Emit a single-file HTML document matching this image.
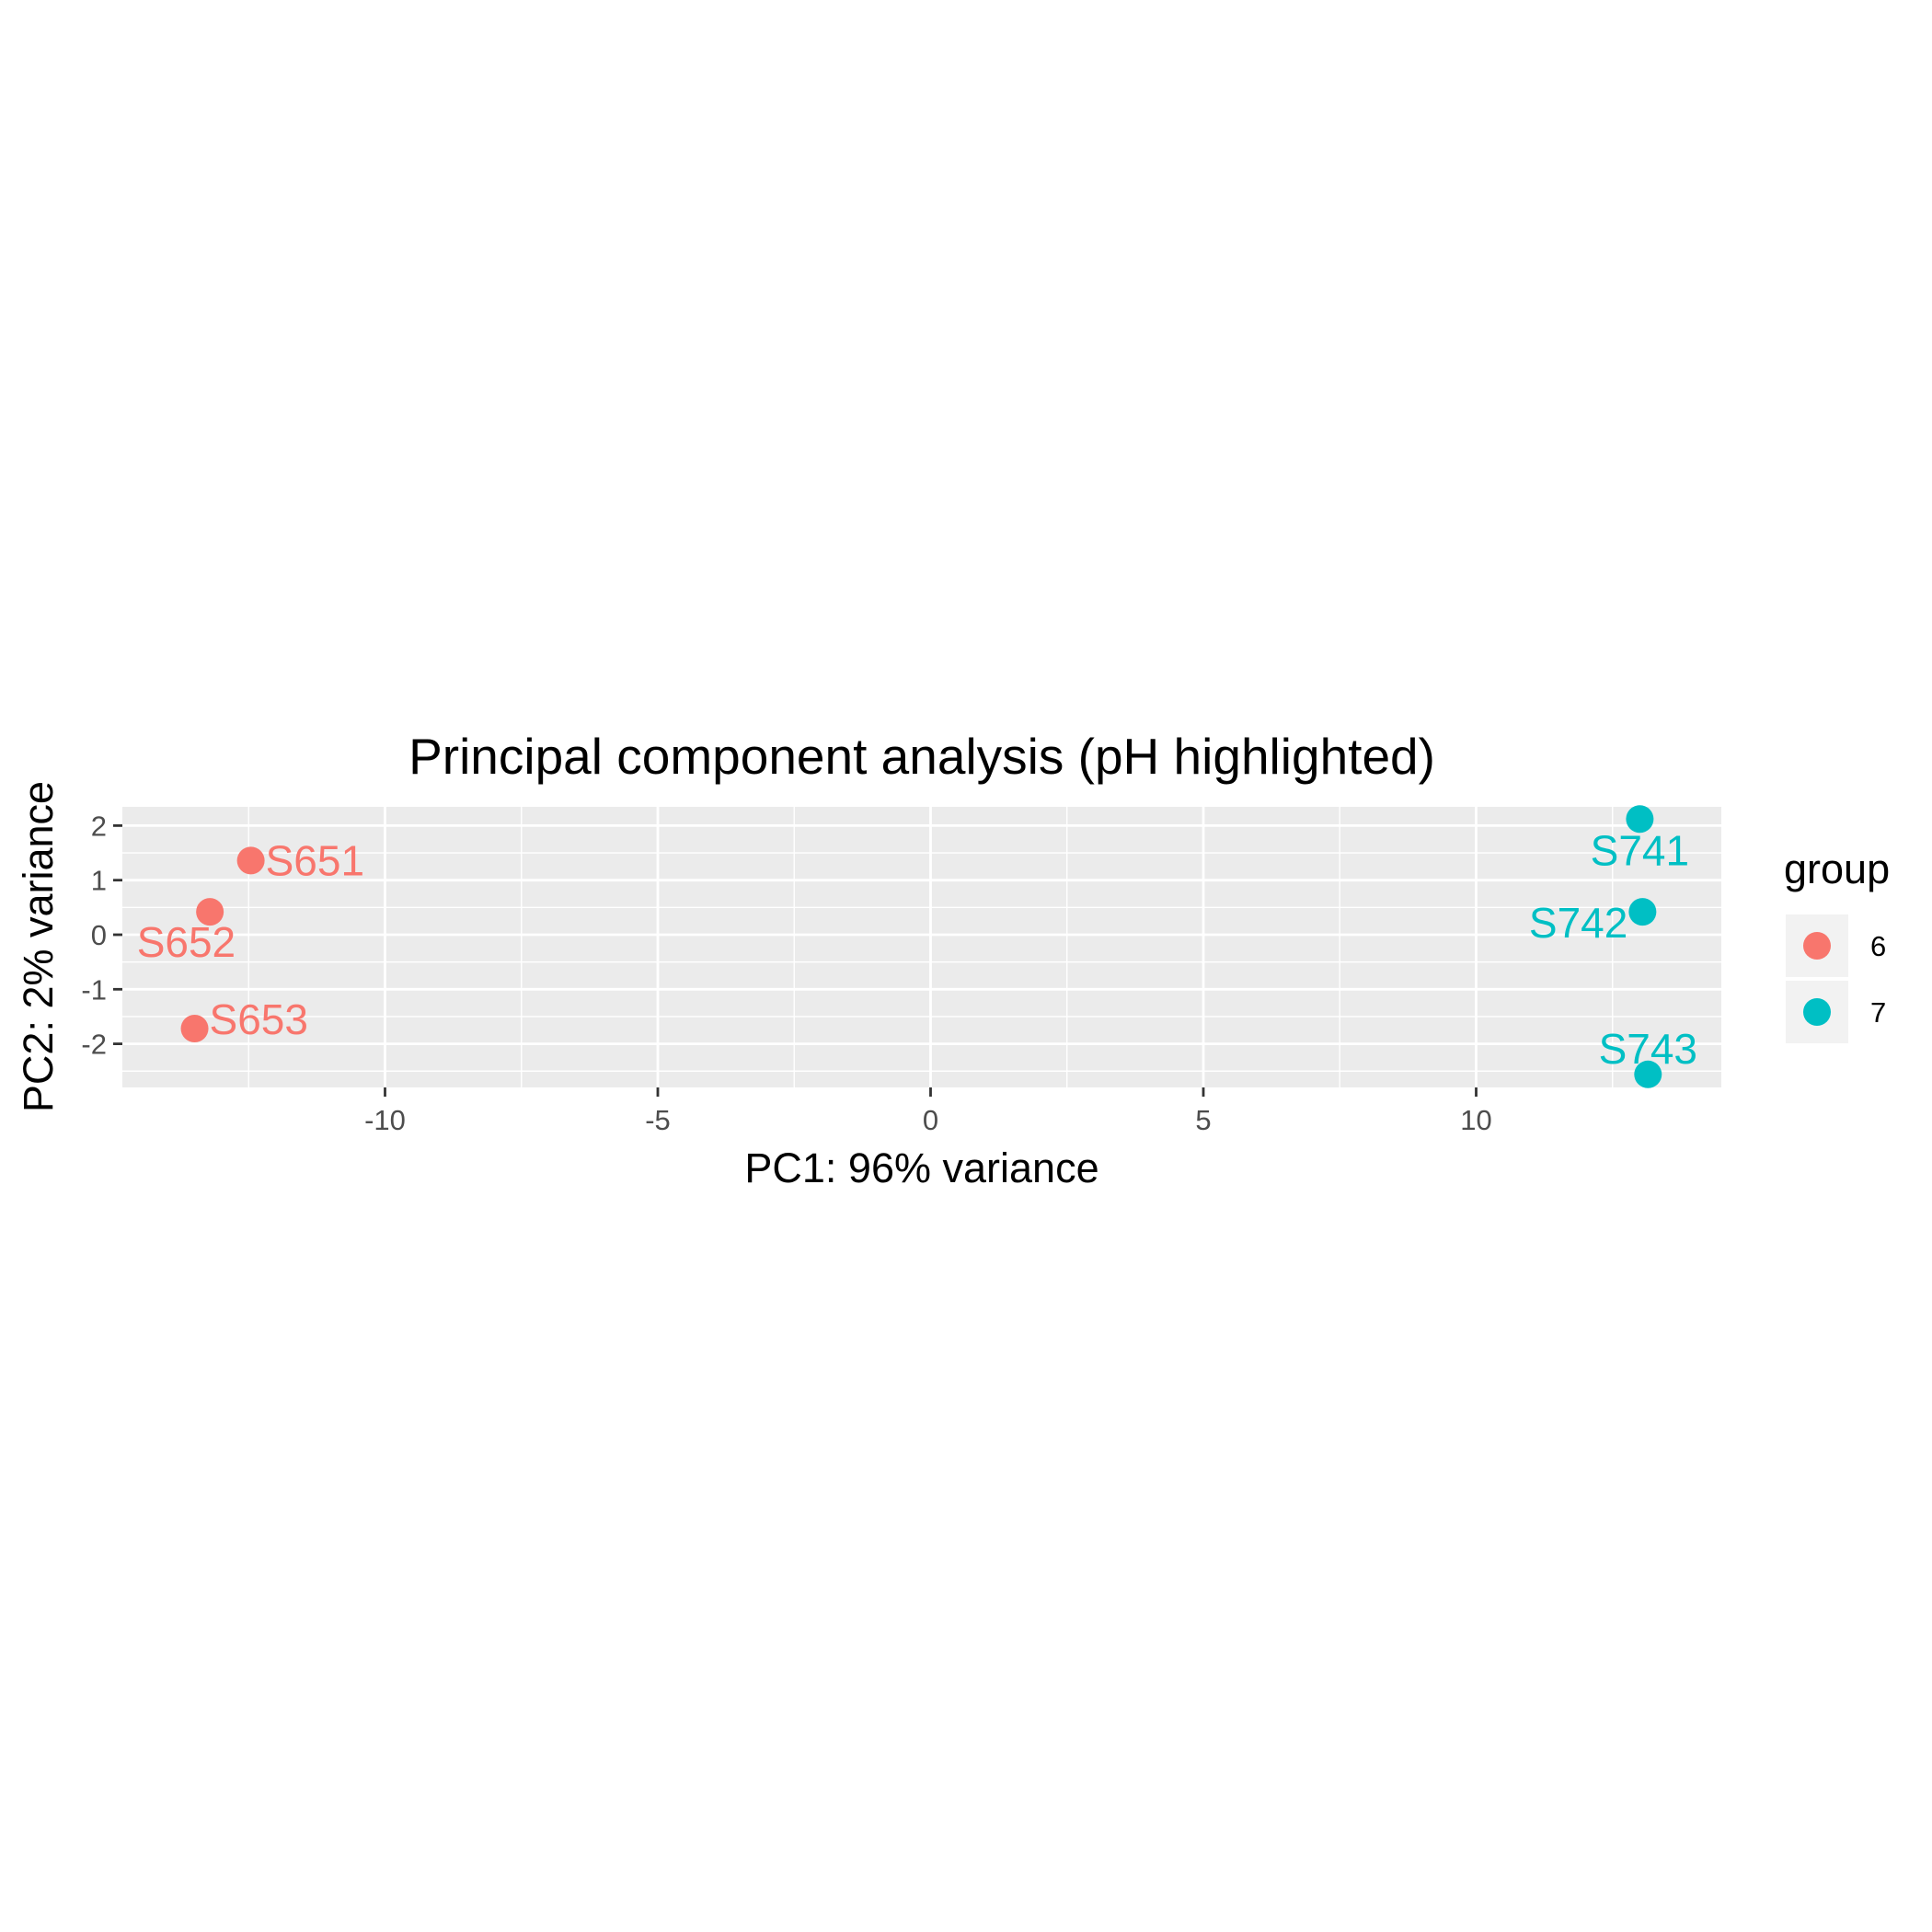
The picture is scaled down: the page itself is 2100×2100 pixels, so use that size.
<!DOCTYPE html>
<html><head><meta charset="utf-8"><style>
html,body{margin:0;padding:0;background:#fff;}
svg{display:block;font-family:"Liberation Sans",Arial,sans-serif;}
</style></head><body>
<svg id="chart" width="2100" height="2100" viewBox="0 0 2100 2100">
<rect width="2100" height="2100" fill="#fff"/>
<text x="1002" y="841" font-size="55" text-anchor="middle" fill="#000">Principal component analysis (pH highlighted)</text>
<rect x="133" y="877" width="1738" height="305" fill="#ebebeb"/>
<g id="grid"></g>
<g id="axes"></g>
<g id="points"></g>
<text x="1002" y="1285" font-size="45" text-anchor="middle" fill="#000">PC1: 96% variance</text>
<text transform="translate(57,1029) rotate(-90)" font-size="45" text-anchor="middle" fill="#000">PC2: 2% variance</text>
<g>
<text x="1939" y="960" font-size="45" fill="#000">group</text>
<g>
<rect x="1941" y="994" width="68" height="68" fill="#f2f2f2"/>
<circle cx="1975" cy="1028" r="15" fill="#F8766D"/>
<text x="2033" y="1039" font-size="31" fill="#000">6</text>
</g>
<g>
<rect x="1941" y="1066" width="68" height="68" fill="#f2f2f2"/>
<circle cx="1975" cy="1100" r="15" fill="#00BFC4"/>
<text x="2033" y="1111" font-size="31" fill="#000">7</text>
</g>
</g>
</svg>
<script>
const samples = ["S651","S652","S653","S741","S742","S743"];
const pc1 = [-12.46,-13.21,-13.49,13.0,13.05,13.15];
const pc2 = [1.36,0.42,-1.72,2.12,0.42,-2.56];
const groups = ["6","6","6","7","7","7"];
const xTicks = [-10,-5,0,5,10];
const yTicks = [-2,-1,0,1,2];
const xMinor = [-12.5,-7.5,-2.5,2.5,7.5,12.5];
const yMinor = [-2.5,-1.5,-0.5,0.5,1.5];
// label offsets (dx,dy) in px relative to point
const labelDx = [16,28,16,0,-16,0];
const labelDy = [0,33,-10,34,12,-28];
const labelAnchor = ["start","end","start","middle","end","middle"];

const NS="http://www.w3.org/2000/svg";
const L=133,R=1871,T=877,B=1182;
const sx=v=>1011.5+v*59.3;
const sy=v=>1016-v*59.3;
const colors={"6":"#F8766D","7":"#00BFC4"};
function mk(tag,attrs,parent){const e=document.createElementNS(NS,tag);for(const k in attrs)e.setAttribute(k,attrs[k]);parent.appendChild(e);return e;}
const grid=document.getElementById('grid'),axes=document.getElementById('axes'),pts=document.getElementById('points');
xMinor.forEach(v=>{const l=mk('line',{x1:sx(v),x2:sx(v),y1:T,y2:B,stroke:'#fff','stroke-width':1.4},grid);

});
yMinor.forEach(v=>{const l=mk('line',{x1:L,x2:R,y1:sy(v),y2:sy(v),stroke:'#fff','stroke-width':1.4},grid);

});
xTicks.forEach(v=>{const l=mk('line',{x1:sx(v),x2:sx(v),y1:T,y2:B,stroke:'#fff','stroke-width':2.8},grid);


const t=mk('line',{x1:sx(v),x2:sx(v),y1:B,y2:B+10,stroke:'#333','stroke-width':2.8},axes);


const tx=mk('text',{x:sx(v),y:1228,'font-size':31,'text-anchor':'middle',fill:'#4d4d4d'},axes);tx.textContent=v;

});
yTicks.forEach(v=>{const l=mk('line',{x1:L,x2:R,y1:sy(v),y2:sy(v),stroke:'#fff','stroke-width':2.8},grid);


const t=mk('line',{x1:L-10,x2:L,y1:sy(v),y2:sy(v),stroke:'#333','stroke-width':2.8},axes);


const tx=mk('text',{x:L-17,y:sy(v)+11,'font-size':31,'text-anchor':'end',fill:'#4d4d4d'},axes);tx.textContent=v;

});
samples.forEach((s,i)=>{const x=sx(pc1[i]),y=sy(pc2[i]);
const c=mk('circle',{cx:x,cy:y,r:15,fill:colors[groups[i]]},pts);


const t=mk('text',{x:x+labelDx[i],y:y+labelDy[i]+16,'font-size':46,'text-anchor':labelAnchor[i],fill:colors[groups[i]]},pts);t.textContent=s;

});
</script>
</body></html>
